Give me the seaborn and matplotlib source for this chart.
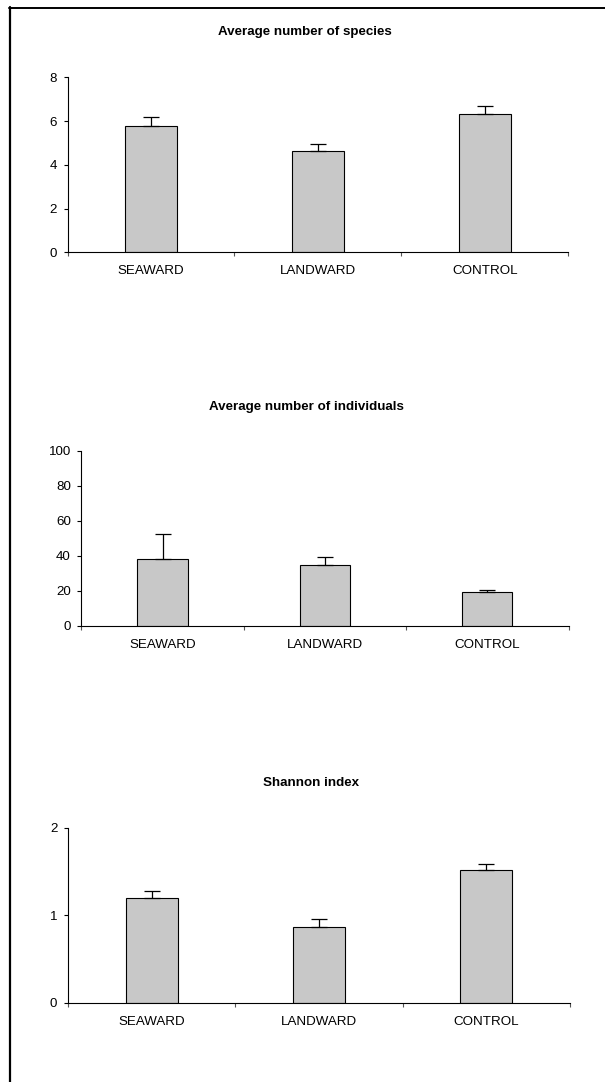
import matplotlib
matplotlib.use("Agg")
import matplotlib.pyplot as plt
from matplotlib.lines import Line2D
from matplotlib.ticker import FixedLocator
import seaborn as sns
import numpy as np

categories = ["SEAWARD", "LANDWARD", "CONTROL"]

species_mean = [5.76, 4.63, 6.32]
species_err = [0.44, 0.34, 0.38]
species_ticks = [0, 2, 4, 6, 8]

indiv_mean = [38.2, 34.6, 19.2]
indiv_err = [14.1, 4.9, 1.5]
indiv_ticks = [0, 20, 40, 60, 80, 100]

shannon_mean = [1.20, 0.87, 1.52]
shannon_err = [0.077, 0.083, 0.061]
shannon_ticks = [0, 1, 2]

titles = ["Average number of species", "Average number of individuals", "Shannon index"]

sns.set_style("white")
plt.rcParams['font.family'] = ['Liberation Sans', 'DejaVu Sans']
plt.rcParams['text.color'] = 'black'
FS = 9.6

W, H = 605, 1082
fig = plt.figure(figsize=(W / 100, H / 100), dpi=100)

# axes rectangles in pixel coordinates: left, right, top, bottom
rects = [
    (67.5, 568.4, 77.3, 252.3),
    (81.4, 568.5, 450.7, 626.0),
    (67.9, 569.9, 827.7, 1002.7),
]
title_pos = [(304.4, 32.0), (306.4, 406.7), (311.0, 782.5)]

panels = [
    (species_mean, species_err, species_ticks),
    (indiv_mean, indiv_err, indiv_ticks),
    (shannon_mean, shannon_err, shannon_ticks),
]

for (l, r, t, b), (means, errs, ticks), title, (tx, ty) in zip(rects, panels, titles, title_pos):
    ax = fig.add_axes([l / W, 1 - b / H, (r - l) / W, (b - t) / H])
    sns.barplot(x=categories, y=means, color="#C8C8C8", saturation=1,
                edgecolor="black", linewidth=0.8, width=0.31, errorbar=None, ax=ax)
    ax.errorbar(np.arange(len(categories)), means,
                yerr=[np.zeros(len(errs)), errs], fmt="none",
                ecolor="black", elinewidth=0.9, capsize=5.8, capthick=0.9, zorder=5)
    ax.set_xlim(-0.5, len(categories) - 0.5)
    ax.set_ylim(ticks[0], ticks[-1])
    ax.set_yticks(ticks)
    ax.set_yticklabels([str(v) for v in ticks], fontsize=FS, color="black")
    ax.set_xticks(range(len(categories)))
    ax.set_xticklabels(categories, fontsize=FS, color="black")
    ax.xaxis.set_minor_locator(FixedLocator(np.arange(-0.5, len(categories), 1.0)))
    ax.tick_params(axis="x", which="major", length=0, pad=9.5, colors="black")
    ax.tick_params(axis="x", which="minor", length=3, width=0.8, direction="out",
                   bottom=True, color="#555555")
    ax.tick_params(axis="y", which="major", length=2.6, width=0.8, direction="out",
                   left=True, pad=5, colors="black")
    ax.set_xlabel("")
    ax.set_ylabel("")
    for s in ["top", "right"]:
        ax.spines[s].set_visible(False)
    for s in ["left", "bottom"]:
        ax.spines[s].set_visible(True)
        ax.spines[s].set_color("black")
        ax.spines[s].set_linewidth(0.8)
    ax.set_facecolor("white")
    fig.text(tx / W, 1 - ty / H, title, ha="center", va="center",
             fontsize=FS, fontweight="bold", color="black")

# partial frame: top and left lines
fig.add_artist(Line2D([8.5 / W, 1.0], [1 - 7.5 / H, 1 - 7.5 / H],
                      transform=fig.transFigure, color="black", linewidth=1.4))
fig.add_artist(Line2D([9.5 / W, 9.5 / W], [1 - 7.0 / H, 0.0],
                      transform=fig.transFigure, color="black", linewidth=1.6))

fig.savefig("out.png", dpi=100, facecolor="white")
